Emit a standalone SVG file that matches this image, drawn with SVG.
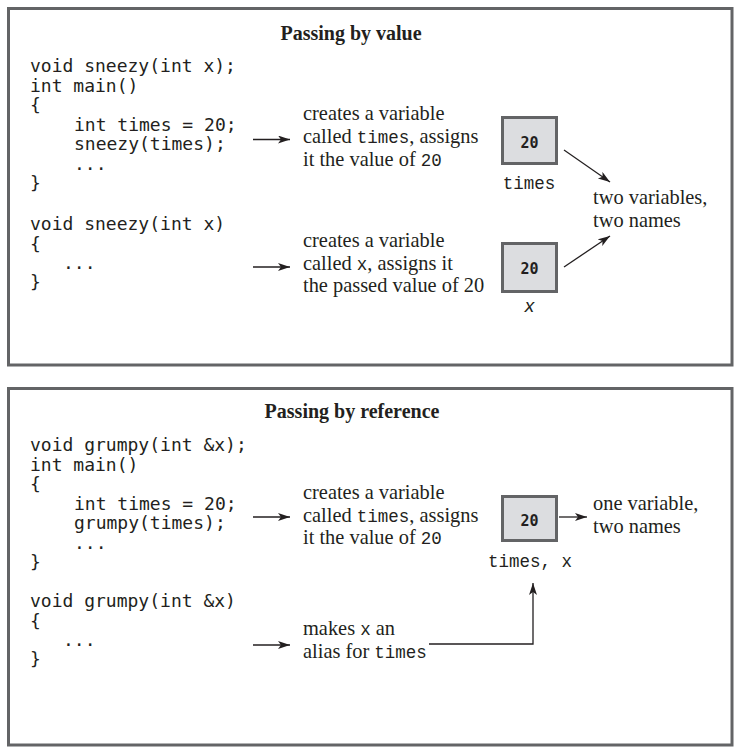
<svg xmlns="http://www.w3.org/2000/svg" width="740" height="754" viewBox="0 0 740 754">
<defs>
<style>
.panel{fill:#ffffff;stroke:#636466;stroke-width:3}
.box{fill:#dcdde0;stroke:#636466;stroke-width:3}
.title{font-family:"Liberation Serif","Times New Roman",serif;font-weight:bold;font-size:20px;fill:#231f20;text-anchor:middle}
.code{font-family:"DejaVu Sans Mono",monospace;font-size:18px;fill:#231f20}
.note{font-family:"Liberation Serif","Times New Roman",serif;font-size:20.4px;fill:#231f20}
.mono{font-family:"Liberation Mono","Courier New",monospace;font-size:17.5px}
.val{font-family:"DejaVu Sans Mono",monospace;font-weight:bold;font-size:15px;fill:#231f20;text-anchor:middle}
.lbl{font-family:"Liberation Mono","Courier New",monospace;font-size:17.5px;fill:#231f20;text-anchor:middle}
.lblx{font-family:"Liberation Sans",Arial,sans-serif;font-style:italic;font-size:19px;fill:#231f20;text-anchor:middle}
.conn{fill:none;stroke:#231f20;stroke-width:1.3;marker-end:url(#ah)}
</style>
<marker id="ah" markerUnits="userSpaceOnUse" markerWidth="14" markerHeight="10" refX="12" refY="4" orient="auto">
<path d="M0,0 L12,4 L0,8 L3,4 z" fill="#231f20"/>
</marker>
</defs>
<rect x="0" y="0" width="740" height="754" fill="#ffffff"/>

<g id="panel-value">
<rect class="panel" x="8.5" y="8.5" width="723.5" height="356.5"/>
<text class="title" x="351" y="40">Passing by value</text>
</g>

<g id="code-value-main">
<text class="code" x="30" y="72">void sneezy(int x);</text>
<text class="code" x="30" y="91.5">int main()</text>
<text class="code" x="30" y="111">{</text>
<text class="code" x="74" y="130.5">int times = 20;</text>
<text class="code" x="74" y="150">sneezy(times);</text>
<text class="code" x="74" y="169.5">...</text>
<text class="code" x="30" y="189">}</text>
</g>

<g id="code-value-func">
<text class="code" x="30" y="230">void sneezy(int x)</text>
<text class="code" x="30" y="249.5">{</text>
<text class="code" x="63" y="269">...</text>
<text class="code" x="30" y="288">}</text>
</g>

<g id="note-value-1">
<text class="note" x="303" y="120">creates a variable</text>
<text class="note" x="303" y="143">called <tspan class="mono">times</tspan>, assigns</text>
<text class="note" x="303" y="166">it the value of <tspan class="mono">20</tspan></text>
</g>

<g id="note-value-2">
<text class="note" x="303" y="247">creates a variable</text>
<text class="note" x="303" y="269.5">called <tspan class="mono">x</tspan>, assigns it</text>
<text class="note" x="303" y="292">the passed value of 20</text>
</g>

<g id="box-times">
<rect class="box" x="502.5" y="117.5" width="54" height="46"/>
<text class="val" x="529.5" y="148">20</text>
<text class="lbl" x="529" y="189">times</text>
</g>

<g id="box-x">
<rect class="box" x="502.5" y="243.5" width="54" height="48"/>
<text class="val" x="529.5" y="273.5">20</text>
<text class="lblx" x="529.5" y="312">x</text>
</g>

<g id="note-two">
<text class="note" x="593" y="203.5">two variables,</text>
<text class="note" x="593" y="227">two names</text>
</g>

<g id="panel-reference">
<rect class="panel" x="8.5" y="388.5" width="723.5" height="356.5"/>
<text class="title" x="352" y="418">Passing by reference</text>
</g>

<g id="code-ref-main">
<text class="code" x="30" y="451">void grumpy(int &amp;x);</text>
<text class="code" x="30" y="470.5">int main()</text>
<text class="code" x="30" y="490">{</text>
<text class="code" x="74" y="509.5">int times = 20;</text>
<text class="code" x="74" y="529">grumpy(times);</text>
<text class="code" x="74" y="548.5">...</text>
<text class="code" x="30" y="568">}</text>
</g>

<g id="code-ref-func">
<text class="code" x="30" y="607">void grumpy(int &amp;x)</text>
<text class="code" x="30" y="626.5">{</text>
<text class="code" x="63" y="645.5">...</text>
<text class="code" x="30" y="665">}</text>
</g>

<g id="note-ref-1">
<text class="note" x="303" y="498.5">creates a variable</text>
<text class="note" x="303" y="521.5">called <tspan class="mono">times</tspan>, assigns</text>
<text class="note" x="303" y="544">it the value of <tspan class="mono">20</tspan></text>
</g>

<g id="note-ref-2">
<text class="note" x="303" y="635">makes <tspan class="mono">x</tspan> an</text>
<text class="note" x="303" y="658">alias for <tspan class="mono">times</tspan></text>
</g>

<g id="box-shared">
<rect class="box" x="502.5" y="496.5" width="54" height="44"/>
<text class="val" x="529.5" y="526">20</text>
<text class="lbl" x="530" y="567">times, x</text>
</g>

<g id="note-one">
<text class="note" x="593" y="510">one variable,</text>
<text class="note" x="593" y="533">two names</text>
</g>

<g id="connectors">
<line class="conn" x1="253" y1="139.5" x2="290" y2="139.5"/>
<line class="conn" x1="253" y1="267" x2="290" y2="267"/>
<line class="conn" x1="564" y1="150" x2="610" y2="182"/>
<line class="conn" x1="564" y1="267" x2="610" y2="236"/>
<line class="conn" x1="253" y1="517" x2="290" y2="517"/>
<line class="conn" x1="253" y1="645" x2="290" y2="645"/>
<line class="conn" x1="559" y1="517" x2="587" y2="517"/>
<polyline class="conn" points="429,644 533,644 533,583"/>
</g>
</svg>
